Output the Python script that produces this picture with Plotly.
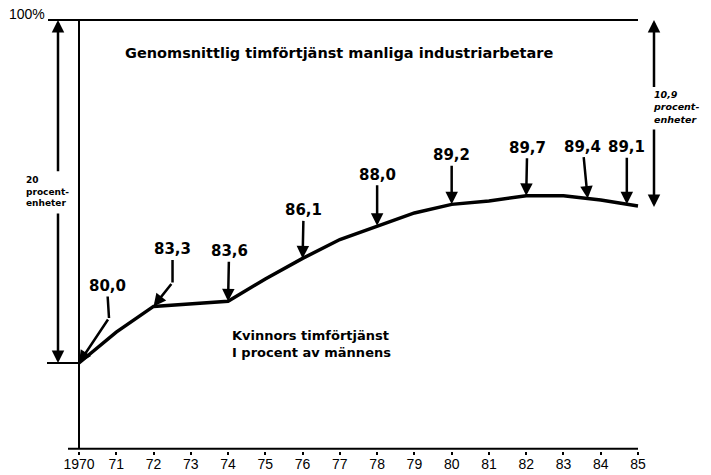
import numpy as np
import plotly.graph_objects as go

# ---- data ----
years = list(range(1970, 1986))
ratio = [80.0, 81.8, 83.3, 83.45, 83.6, 84.9, 86.1, 87.2, 88.0, 88.75,
         89.25, 89.45, 89.75, 89.75, 89.5, 89.15]

label_texts = ["80,0", "83,3", "83,6", "86,1", "88,0", "89,2", "89,7", "89,4", "89,1"]
label_years = [1970, 1972, 1974, 1976, 1978, 1980, 1982, 1983.65, 1984.7]

tick_years = years
tick_labels = ["1970"] + [str(y % 100) for y in years[1:]]

men_level = 100.0
start_level = 80.0
gap_total_text = "20"
gap_recent = 10.9
gap_recent_text = "10,9"

title_text = "Genomsnittlig timförtjänst manliga industriarbetare"
series_lines = ["Kvinnors timförtjänst", "I procent av männens"]
unit_lines = ["procent-", "enheter"]

# ---- layout calibration (pixels) ----
W, H = 711, 475
B = 24
X_PX = (79, 638)     # pixel x of 1970 and 1985
Y_PX = (20, 363)     # pixel y of 100 and 80
ppx = (X_PX[1] - X_PX[0]) / (years[-1] - years[0])
ppy = (Y_PX[1] - Y_PX[0]) / (men_level - start_level)
x_range = [years[0] - X_PX[0] / ppx, years[-1] + (W - X_PX[1]) / ppx]
plot_h = H - B
y_range = [start_level - (plot_h - Y_PX[1]) / ppy, men_level + Y_PX[0] / ppy]
y_floor = 75.0


def dx(p):
    return p / ppx


def dy(p):
    return p / ppy


BOLD = dict(family="DejaVu Sans", color="black", weight="bold")

fig = go.Figure()
fig.add_trace(go.Scatter(x=years, y=ratio, mode="lines",
                         line=dict(color="black", width=3.5),
                         hoverinfo="skip", showlegend=False))

shapes = [
    dict(type="line", xref="x", yref="y", x0=years[0] - dx(31), x1=years[-1],
         y0=men_level, y1=men_level, line=dict(color="black", width=2)),
    dict(type="line", xref="x", yref="y", x0=years[0], x1=years[0],
         y0=men_level, y1=y_floor, line=dict(color="black", width=2)),
    dict(type="line", xref="x", yref="y", x0=years[0] - dx(32), x1=years[0],
         y0=start_level, y1=start_level, line=dict(color="black", width=2)),
    dict(type="line", xref="x", yref="y", x0=years[0] - dx(11), x1=years[-1],
         y0=y_floor, y1=y_floor, line=dict(color="black", width=2)),
]

annotations = []
# label text offsets (pixels, relative to arrow head) and bends
text_off = [(28, -77), (19, -57), (1, -50), (1, -48), (0, -51), (0, -49),
            (1, -48), (-5, -52), (0, -57)]
bends = {0: (30, -45), 1: (19, -24)}
arrow_style = dict(showarrow=True, arrowhead=2, arrowsize=1, arrowwidth=2.5,
                   arrowcolor="black", standoff=0)
LBL = dict(size=15, **BOLD)

for i, (txt, yr) in enumerate(zip(label_texts, label_years)):
    v = float(np.interp(yr, years, ratio))
    tx, ty = text_off[i]
    if i in bends:
        bx, by = bends[i]
        annotations.append(dict(x=yr, y=v, xref="x", yref="y", text="",
                                ax=bx, ay=by, **arrow_style))
        annotations.append(dict(x=yr + dx(bx), y=v - dy(by), xref="x", yref="y",
                                text=txt, ax=tx - bx, ay=ty - by,
                                showarrow=True, arrowhead=0, arrowwidth=2.5,
                                arrowcolor="black", standoff=0, font=LBL))
    else:
        annotations.append(dict(x=yr, y=v, xref="x", yref="y", text=txt,
                                ax=tx, ay=ty, font=LBL, **arrow_style))

# double arrows
xL = years[0] - dx(21)
xR = years[-1] + dx(16)
for (xx, head, tail) in [(xL, men_level, 91.1), (xL, start_level, 88.8),
                         (xR, men_level, 96.0), (xR, men_level - gap_recent, 93.7)]:
    annotations.append(dict(x=xx, y=head, xref="x", yref="y", text="",
                            axref="x", ayref="y", ax=xx, ay=tail, **arrow_style))


def text_at(txt, x, y, font, xanchor="center"):
    return dict(x=x, y=y, xref="x", yref="y", text=txt, showarrow=False,
                xanchor=xanchor, yanchor="middle", align="left", font=font)


annotations.append(text_at("100%", years[0] - dx(32), men_level + dy(6),
                           dict(family="Liberation Sans", size=14, color="black"),
                           xanchor="right"))
annotations.append(text_at(title_text, years[0] + dx(259.5), men_level - dy(33),
                           dict(size=14.5, **BOLD)))
annotations.append(text_at("<br>".join(series_lines), years[0] + dx(151),
                           start_level + dy(19), dict(size=13, **BOLD),
                           xanchor="left"))
annotations.append(text_at("<br>".join([gap_total_text] + unit_lines),
                           years[0] - dx(55), start_level + dy(172),
                           dict(size=9, **BOLD), xanchor="left"))
annotations.append(text_at("<br>".join([gap_recent_text] + unit_lines),
                           years[-1] + dx(13), men_level - dy(87),
                           dict(size=9.5, style="italic", **BOLD),
                           xanchor="left"))

fig.update_layout(
    width=W, height=H,
    margin=dict(l=0, r=0, t=0, b=B),
    paper_bgcolor="white", plot_bgcolor="white",
    shapes=shapes, annotations=annotations, showlegend=False,
    xaxis=dict(range=x_range, tickvals=tick_years, ticktext=tick_labels,
               ticks="outside", ticklen=3, tickwidth=1.5, tickcolor="black",
               ticklabelstandoff=-3,
               showline=False, showgrid=False, zeroline=False,
               tickfont=dict(family="Liberation Sans", size=14, color="black")),
    yaxis=dict(range=y_range, visible=False, showgrid=False, zeroline=False),
)

fig.write_html(
    "out.html",
    config={"displayModeBar": False},
    post_script="document.body.style.margin='0';document.body.style.padding='0';"
                "document.body.style.overflow='hidden';",
)
